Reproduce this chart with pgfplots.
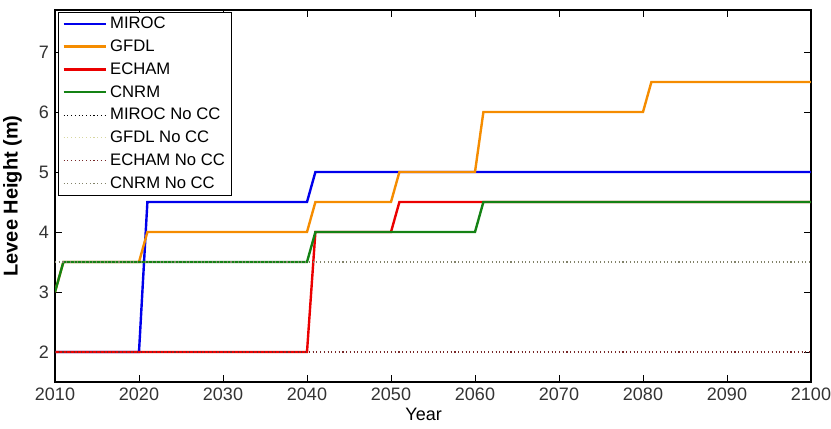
\documentclass[border=0pt]{standalone}
\usepackage{fontspec}
\setmainfont{Liberation Sans}
\usepackage{pgfplots}
\pgfplotsset{compat=1.18}
\definecolor{cMIROC}{RGB}{0,0,235}
\definecolor{cGFDL}{RGB}{245,140,0}
\definecolor{cECHAM}{RGB}{235,0,0}
\definecolor{cCNRM}{RGB}{20,130,20}
\definecolor{nGFDL}{RGB}{215,215,160}
\definecolor{nECHAM}{RGB}{120,40,40}
\definecolor{nCNRM}{RGB}{130,130,105}
\begin{document}
\begin{tikzpicture}[x=0.75pt,y=0.75pt]
\begin{axis}[
  scale only axis,
  width=567pt, height=279pt,
  at={(0,0)}, anchor=south west,
  xmin=2010, xmax=2100, ymin=1.5, ymax=7.7,
  xtick={2010,2020,...,2100},
  ytick={2,3,4,5,6,7},
  tick align=inside,
  xtick pos=both, ytick pos=both,
  major tick length=5pt,
  x tick label style={/pgf/number format/1000 sep={}, yshift=-1pt},
  y tick label style={xshift=-1pt},
  /pgf/number format/assume math mode=true,
  tick label style={font=\fontsize{13.5}{15}\selectfont, text=black!80},
  xlabel={Year},
  ylabel={\bfseries Levee Height (m)},
  xlabel style={font=\fontsize{13.5}{15}\selectfont, yshift=1.5pt, xshift=-7pt},
  ylabel style={font=\fontsize{15}{17}\selectfont, yshift=6pt},
  axis line style={black, line width=0.8pt},
  every tick/.style={black, line width=0.6pt},
  legend cell align=left,
  legend style={at={(rel axis cs:0.004,0.995)}, anchor=north west,
    font=\fontsize{12.5}{14}\selectfont, draw=black, line width=0.6pt,
    inner xsep=3pt, inner ysep=1.5pt, row sep=2.9pt,
    legend image code/.code={\draw[##1] (0pt,0pt) -- (32pt,0pt);}},
]
% MIROC
\addplot[cMIROC, line width=1.8pt] coordinates {(2010,2) (2020,2) (2021,4.5) (2040,4.5) (2041,5) (2100,5)};
% GFDL
\addplot[cGFDL, line width=1.8pt] coordinates {(2010,3) (2011,3.5) (2020,3.5) (2021,4) (2040,4) (2041,4.5) (2050,4.5) (2051,5) (2060,5) (2061,6) (2080,6) (2081,6.5) (2100,6.5)};
% ECHAM
\addplot[cECHAM, line width=1.8pt] coordinates {(2010,2) (2040,2) (2041,4) (2050,4) (2051,4.5) (2100,4.5)};
% CNRM
\addplot[cCNRM, line width=1.8pt] coordinates {(2010,3) (2011,3.5) (2040,3.5) (2041,4) (2060,4) (2061,4.5) (2100,4.5)};
% No CC
\addplot[black, line width=0.8pt, dotted] coordinates {(2010,2) (2100,2)};
\addplot[nGFDL, line width=0.8pt, dotted] coordinates {(2010,3.5) (2100,3.5)};
\addplot[nECHAM, line width=0.8pt, dotted] coordinates {(2010,2) (2100,2)};
\addplot[nCNRM, line width=0.8pt, dotted] coordinates {(2010,3.5) (2100,3.5)};
\legend{MIROC,GFDL,ECHAM,CNRM,MIROC No CC,GFDL No CC,ECHAM No CC,CNRM No CC}
\end{axis}
\pgfresetboundingbox
\path (-55,-46) rectangle (776,382);
\end{tikzpicture}
\end{document}
